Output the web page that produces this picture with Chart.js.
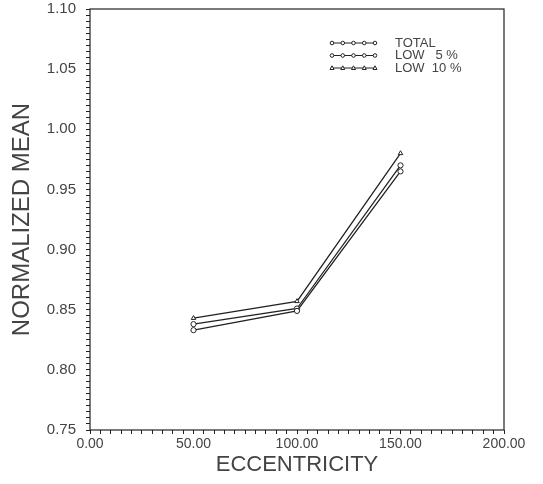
<!DOCTYPE html>
<html>
<head>
<meta charset="utf-8">
<script src="https://cdn.jsdelivr.net/npm/chart.js@4/dist/chart.umd.min.js"></script>
<style>
    html, body { margin: 0; padding: 0; background: #fff; }
    #wrap { width: 543px; height: 484px; }
</style>
</head>
<body>
<div id="wrap"><canvas id="myChart"></canvas></div>
<script>
/* 편심 거리별 정규화 평균 */
let eccentricity = [50, 100, 150];
let totalList = [0.833, 0.849, 0.965];
let low5List = [0.838, 0.851, 0.970];
let low10List = [0.843, 0.857, 0.980];
let seriesNames = ['TOTAL', 'LOW   5 %', 'LOW  10 %'];
let seriesMarks = ['circle', 'circle', 'triangle'];

let inkColor = '#222';
let textColor = '#444';
let fontFamily = '"Liberation Sans", Arial, sans-serif';

function toPoints(list) {
    let pts = [];
    for (let i = 0; i < eccentricity.length; i++) {
        pts.push({ x: eccentricity[i], y: list[i] });
    }
    return pts;
}

function lineSet(name, list, mark) {
    return {
        label: name,
        data: toPoints(list),
        borderColor: inkColor,
        borderWidth: 1.3,
        pointStyle: mark,
        pointRadius: 2.6,
        pointBorderWidth: 1,
        pointBackgroundColor: '#fff',
        pointBorderColor: inkColor,
        fill: false,
        tension: 0
    };
}

/* 테두리 박스 + 범례 */
let framePlugin = {
    id: 'frame',
    afterDraw: function (chart) {
        let ctx = chart.ctx;
        let a = chart.chartArea;
        ctx.save();
        ctx.strokeStyle = inkColor;
        ctx.lineWidth = 1.2;
        ctx.strokeRect(a.left, a.top, a.right - a.left, a.bottom - a.top);

        let x0 = a.left + 242;
        let y0 = a.top + 34;
        ctx.font = '13px ' + fontFamily;
        ctx.textBaseline = 'middle';
        for (let i = 0; i < seriesNames.length; i++) {
            let y = y0 + i * 12.5;
            ctx.strokeStyle = inkColor;
            ctx.lineWidth = 1;
            ctx.beginPath();
            ctx.moveTo(x0, y);
            ctx.lineTo(x0 + 43, y);
            ctx.stroke();
            for (let k = 0; k < 5; k++) {
                let mx = x0 + k * 10.75;
                ctx.fillStyle = '#fff';
                ctx.beginPath();
                if (seriesMarks[i] === 'triangle') {
                    ctx.moveTo(mx, y - 2.2);
                    ctx.lineTo(mx + 2, y + 1.5);
                    ctx.lineTo(mx - 2, y + 1.5);
                    ctx.closePath();
                } else {
                    ctx.arc(mx, y, 1.8, 0, Math.PI * 2);
                }
                ctx.fill();
                ctx.stroke();
            }
            ctx.fillStyle = textColor;
            ctx.fillText(seriesNames[i], x0 + 63, y);
        }
        ctx.restore();
    }
};

let ctx = document.getElementById('myChart').getContext('2d');

let myChart = new Chart(ctx, {
    type: 'line',
    data: {
        datasets: [
            lineSet(seriesNames[0], totalList, seriesMarks[0]),
            lineSet(seriesNames[1], low5List, seriesMarks[1]),
            lineSet(seriesNames[2], low10List, seriesMarks[2])
        ]
    },
    options: {
        responsive: true,
        maintainAspectRatio: false,
        animation: false,
        layout: {
            padding: { left: 0, right: 39, top: 9, bottom: 0 }
        },
        plugins: {
            legend: { display: false },
            tooltip: { enabled: false }
        },
        scales: {
            x: {
                type: 'linear',
                min: 0,
                max: 200,
                afterFit: function (scale) {
                    scale.height = 54;
                    scale.paddingLeft = 0;
                    scale.paddingRight = 0;
                },
                border: { display: false },
                grid: { drawOnChartArea: false, tickLength: 4, tickColor: inkColor },
                ticks: {
                    stepSize: 5,
                    autoSkip: false,
                    maxRotation: 0,
                    padding: 2,
                    color: textColor,
                    font: { family: fontFamily, size: 14 },
                    callback: function (v) {
                        return (Math.round(v) % 50 === 0) ? v.toFixed(2) : '';
                    }
                },
                title: {
                    display: true,
                    text: 'ECCENTRICITY',
                    color: textColor,
                    padding: { top: 0, bottom: 6 },
                    font: { family: fontFamily, size: 22 }
                }
            },
            y: {
                type: 'linear',
                min: 0.75,
                max: 1.10,
                afterFit: function (scale) {
                    scale.width = 90;
                    scale.paddingTop = 0;
                    scale.paddingBottom = 0;
                },
                border: { display: false },
                grid: { drawOnChartArea: false, tickLength: 4, tickColor: inkColor },
                ticks: {
                    stepSize: 0.005,
                    autoSkip: false,
                    padding: 10,
                    color: textColor,
                    font: { family: fontFamily, size: 15 },
                    callback: function (v) {
                        return (Math.round(v * 1000) % 50 === 0) ? v.toFixed(2) : '';
                    }
                },
                title: {
                    display: true,
                    text: 'NORMALIZED MEAN',
                    color: textColor,
                    padding: { top: 8, bottom: 0 },
                    font: { family: fontFamily, size: 24 }
                }
            }
        }
    },
    plugins: [framePlugin]
});
</script>
</body>
</html>
